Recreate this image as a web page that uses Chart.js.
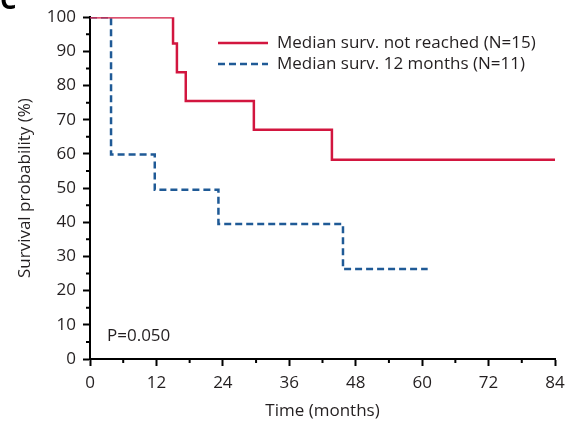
<!DOCTYPE html>
<html>
<head>
<meta charset="utf-8">
<script src="https://cdn.jsdelivr.net/npm/chart.js@4.4.1/dist/chart.umd.min.js"></script>
<style>
  html, body { margin: 0; padding: 0; background: #fff; }
  #km { display: block; }
</style>
</head>
<body>
<canvas id="km" width="566" height="426"></canvas>
<script>
// Kaplan-Meier curves (time in months, survival %)
var groupLabels = ['Median surv. not reached (N=15)', 'Median surv. 12 months (N=11)'];
var redTimes = [0, 15, 15.7, 17.3, 29.6, 43.7, 84];
var redSurv  = [100, 92.3, 83.9, 75.5, 67.1, 58.3, 58.3];
var blueTimes = [0, 3.8, 11.7, 23.2, 45.7, 61];
var blueSurv  = [100, 59.8, 49.5, 39.5, 26.3, 26.3];
var xTicks = [0, 12, 24, 36, 48, 60, 72, 84];
var xMinor = [6, 18, 30, 42, 54, 66, 78];
var yMinor = [5, 15, 25, 35, 45, 55, 65, 75, 85, 95];
var pValueText = 'P=0.050';

var FONT = '"Open Sans", "Liberation Sans", sans-serif';
var INK = '#231f20';

function toPoints(xs, ys) {
  return xs.map(function (x, i) { return { x: x, y: ys[i] }; });
}

// short minor ticks on both axes
var minorTicks = {
  id: 'minorTicks',
  afterDraw: function (chart) {
    var ctx = chart.ctx;
    var xs = chart.scales.x, ys = chart.scales.y;
    ctx.save();
    ctx.strokeStyle = '#000';
    ctx.lineWidth = 2;
    ctx.beginPath();
    xMinor.forEach(function (v) {
      var px = xs.getPixelForValue(v);
      ctx.moveTo(px, xs.top);
      ctx.lineTo(px, xs.top + 4);
    });
    yMinor.forEach(function (v) {
      var py = ys.getPixelForValue(v);
      ctx.moveTo(ys.right, py);
      ctx.lineTo(ys.right - 4, py);
    });
    ctx.stroke();
    ctx.restore();
  }
};

// legend + p-value drawn inside the plot area
var insideText = {
  id: 'insideText',
  afterDatasetsDraw: function (chart) {
    var ctx = chart.ctx;
    var area = chart.chartArea;
    ctx.save();
    ctx.font = '17px ' + FONT;
    ctx.textBaseline = 'middle';
    chart.data.datasets.forEach(function (ds, i) {
      var y = 43 + i * 21;
      ctx.strokeStyle = ds.borderColor;
      ctx.lineWidth = ds.borderWidth;
      ctx.setLineDash(ds.borderDash || []);
      ctx.beginPath();
      ctx.moveTo(218, y);
      ctx.lineTo(268, y);
      ctx.stroke();
      ctx.setLineDash([]);
      ctx.fillStyle = INK;
      ctx.fillText(ds.label, 277, y);
    });
    ctx.fillText(pValueText, area.left + 17, 336);
    // cropped panel letter at the top-left corner
    ctx.font = 'bold 26px ' + FONT;
    ctx.textBaseline = 'alphabetic';
    ctx.fillStyle = '#000';
    ctx.fillText('C', 0, 9);
    ctx.restore();
  }
};

var ctx = document.getElementById('km').getContext('2d');
new Chart(ctx, {
  type: 'line',
  data: {
    datasets: [
      {
        label: groupLabels[0],
        data: toPoints(redTimes, redSurv),
        borderColor: '#d2163f',
        borderWidth: 2.5,
        stepped: 'before',
        pointRadius: 0,
        fill: false
      },
      {
        label: groupLabels[1],
        data: toPoints(blueTimes, blueSurv),
        borderColor: '#1f5a96',
        borderWidth: 2.5,
        borderDash: [7, 4],
        stepped: 'before',
        pointRadius: 0,
        fill: false
      }
    ]
  },
  options: {
    responsive: false,
    animation: false,
    layout: { padding: { top: 17, right: 11, left: 0, bottom: 0 } },
    plugins: {
      legend: { display: false },
      tooltip: { enabled: false }
    },
    scales: {
      x: {
        type: 'linear',
        min: 0,
        max: 84,
        afterBuildTicks: function (s) {
          s.ticks = xTicks.map(function (v) { return { value: v }; });
        },
        afterFit: function (s) {
          s.height = 67;
          s.paddingLeft = 0;
          s.paddingRight = 0;
        },
        border: { color: '#000', width: 2 },
        grid: { drawOnChartArea: false, tickLength: 7, tickColor: '#000', tickWidth: 2 },
        ticks: { color: INK, font: { family: FONT, size: 17 }, padding: 7, maxRotation: 0 },
        title: { display: true, text: 'Time (months)', color: INK, font: { family: FONT, size: 17 }, padding: { top: 0, bottom: 5 } }
      },
      y: {
        min: 0,
        max: 100,
        afterFit: function (s) { s.width = 90; },
        border: { color: '#000', width: 2 },
        grid: { drawOnChartArea: false, tickLength: 7, tickColor: '#000', tickWidth: 2 },
        ticks: { stepSize: 10, color: INK, font: { family: FONT, size: 17 }, padding: 7 },
        title: { display: true, text: 'Survival probability (%)', color: INK, font: { family: FONT, size: 17 }, padding: { top: 15, bottom: 0 } }
      }
    }
  },
  plugins: [minorTicks, insideText]
});
</script>
</body>
</html>
